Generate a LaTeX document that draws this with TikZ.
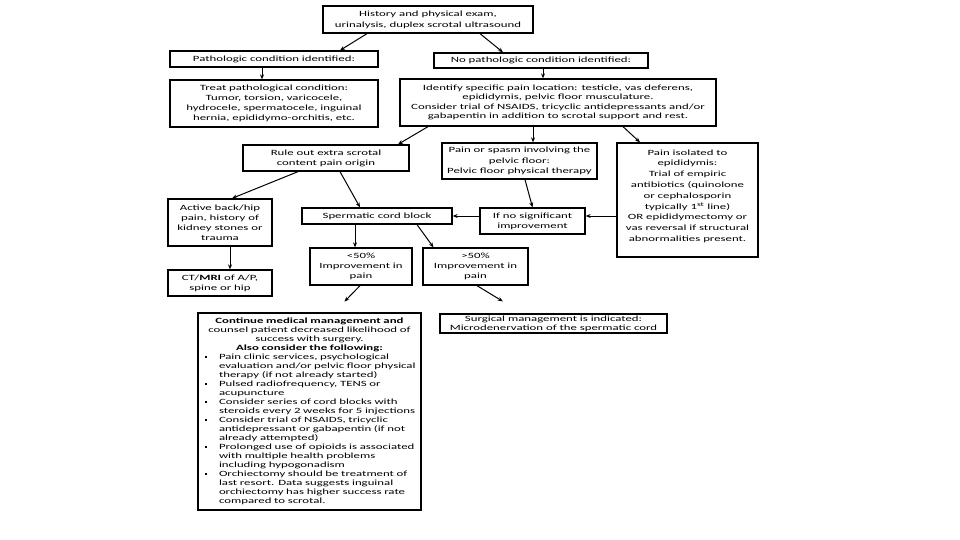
\documentclass[tikz,border=0pt]{standalone}
\usepackage{fontspec}
\setmainfont{Carlito}[FakeStretch=1.6]
\usetikzlibrary{arrows.meta}
\newcommand{\bq}{\makebox[19pt][l]{\hspace{5pt}\rule[1.6pt]{2.2pt}{2.2pt}}}
\newcommand{\ind}{\hspace*{19pt}}
\begin{document}
\begin{tikzpicture}[x=1pt,y=-1pt,
  box/.style={draw, line width=1.3pt, fill=white, inner sep=0pt, align=center,
    font=\fontsize{8}{10}\selectfont},
  arr/.style={-{Stealth[length=5pt,width=4pt]}, line width=1pt}]
\fill[white] (0,0) rectangle (960,540);
\useasboundingbox (0,0) rectangle (960,540);

\node[box, minimum width=210pt, minimum height=27pt, font=\fontsize{8}{11}\selectfont] (top) at (428,19.5)
  {History and physical exam,\\urinalysis, duplex scrotal ultrasound};
\node[box, minimum width=208pt, minimum height=16pt] (path) at (274,59)
  {Pathologic condition identified:};
\node[box, minimum width=208pt, minimum height=47pt] (treat) at (274,103.5)
  {Treat pathological condition:\\Tumor, torsion, varicocele,\\hydrocele, spermatocele, inguinal\\hernia, epididymo-orchitis, etc.};
\node[box, minimum width=214pt, minimum height=15pt] (nopath) at (541,60.5)
  {No pathologic condition identified:};
\node[box, minimum width=316pt, minimum height=47pt, font=\fontsize{8}{9.3}\selectfont] (ident) at (558,102.5)
  {Identify specific pain location: testicle, vas deferens,\\epididymis, pelvic floor musculature.\\Consider trial of NSAIDS, tricyclic antidepressants and/or\\gabapentin in addition to scrotal support and rest.};
\node[box, minimum width=166pt, minimum height=26pt] (rule) at (326,158)
  {Rule out extra scrotal\\content pain origin};
\node[box, minimum width=155pt, minimum height=36pt, font=\fontsize{8}{10.5}\selectfont] (pelvic) at (519.5,161)
  {Pain or spasm involving the\\pelvic floor:\\Pelvic floor physical therapy};
\node[box, minimum width=141pt, minimum height=114pt, font=\fontsize{8}{10.8}\selectfont] (iso) at (687.5,200)
  {Pain isolated to\\epididymis:\\Trial of empiric\\antibiotics (quinolone\\or cephalosporin\\typically 1\textsuperscript{st} line)\\OR epididymectomy or\\vas reversal if structural\\abnormalities present.\\[-2pt]\mbox{}};
\node[box, minimum width=104pt, minimum height=47pt] (active) at (220,222.5)
  {Active back/hip\\pain, history of\\kidney stones or\\trauma};
\node[box, minimum width=104pt, minimum height=26pt] (cmri) at (220,283)
  {CT/\textbf{MRI} of A/P,\\spine or hip};
\node[box, minimum width=150pt, minimum height=16pt] (sperm) at (377,216)
  {Spermatic cord block};
\node[box, minimum width=105pt, minimum height=26pt] (ifno) at (532.5,221)
  {If no significant\\improvement};
\node[box, minimum width=102pt, minimum height=37pt] (lt50) at (361,266.5)
  {<50\%\\Improvement in\\pain};
\node[box, minimum width=105pt, minimum height=37pt] (gt50) at (475.5,266.5)
  {>50\%\\Improvement in\\pain};
\node[box, minimum width=227pt, minimum height=19pt, font=\fontsize{8}{9}\selectfont] (surg) at (553.5,323.5)
  {Surgical management is indicated:\\Microdenervation of the spermatic cord};
\node[box, minimum width=223pt, minimum height=197pt, text width=219pt, align=left,
  font=\fontsize{8}{9}\selectfont] (cont) at (309.5,411.5)
  {{\centering\textbf{Continue medical management and}\\counsel patient decreased likelihood of\\success with surgery.\\\textbf{Also consider the following:}\par}
  \bq\mbox{Pain clinic services, psychological}\\
  \ind\mbox{evaluation and/or pelvic floor physical}\\
  \ind\mbox{therapy (if not already started)}\\
  \bq\mbox{Pulsed radiofrequency, TENS or}\\
  \ind\mbox{acupuncture}\\
  \bq\mbox{Consider series of cord blocks with}\\
  \ind\mbox{steroids every 2 weeks for 5 injections}\\
  \bq\mbox{Consider trial of NSAIDS, tricyclic}\\
  \ind\mbox{antidepressant or gabapentin (if not}\\
  \ind\mbox{already attempted)}\\
  \bq\mbox{Prolonged use of opioids is associated}\\
  \ind\mbox{with multiple health problems}\\
  \ind\mbox{including hypogonadism}\\
  \bq\mbox{Orchiectomy should be treatment of}\\
  \ind\mbox{last resort. Data suggests inguinal}\\
  \ind\mbox{orchiectomy has higher success rate}\\
  \ind\mbox{compared to scrotal.}};

\draw[arr] ([xshift=-61pt]top.south) -- ([xshift=66pt]path.north);
\draw[arr] ([xshift=52pt]top.south) -- ([xshift=-38pt]nopath.north);
\draw[arr] ([xshift=-12pt]path.south) -- ([xshift=-12pt]treat.north);
\draw[arr] ([xshift=2pt]nopath.south) -- ([xshift=-15pt]ident.north);
\draw[arr] ([xshift=-130pt]ident.south) -- ([xshift=72pt]rule.north);
\draw[arr] ([xshift=-25pt]ident.south) -- ([xshift=13.5pt]pelvic.north);
\draw[arr] ([xshift=65pt]ident.south) -- ([xshift=-47.5pt]iso.north);
\draw[arr] ([xshift=-28pt]rule.south) -- ([xshift=12pt]active.north);
\draw[arr] ([xshift=14pt]rule.south) -- ([xshift=-17pt]sperm.north);
\draw[arr] ([xshift=5.5pt]pelvic.south) -- (ifno.north);
\draw[arr] ([yshift=-16pt]iso.west) -- ([yshift=5pt]ifno.east);
\draw[arr] ([yshift=5pt]ifno.west) -- (sperm.east);
\draw[arr] ([xshift=-22pt]sperm.south) -- ([xshift=-6pt]lt50.north);
\draw[arr] ([xshift=40pt]sperm.south) -- ([xshift=-42pt]gt50.north);
\draw[arr] ([xshift=10pt]active.south) -- ([xshift=10pt]cmri.north);
\draw[arr, shorten >=15pt] ([xshift=-1pt]lt50.south) -- ([xshift=24.5pt]cont.north);
\draw[arr, shorten >=23pt] ([xshift=1.5pt]gt50.south) -- ([xshift=-31pt]surg.north);
\end{tikzpicture}
\end{document}
